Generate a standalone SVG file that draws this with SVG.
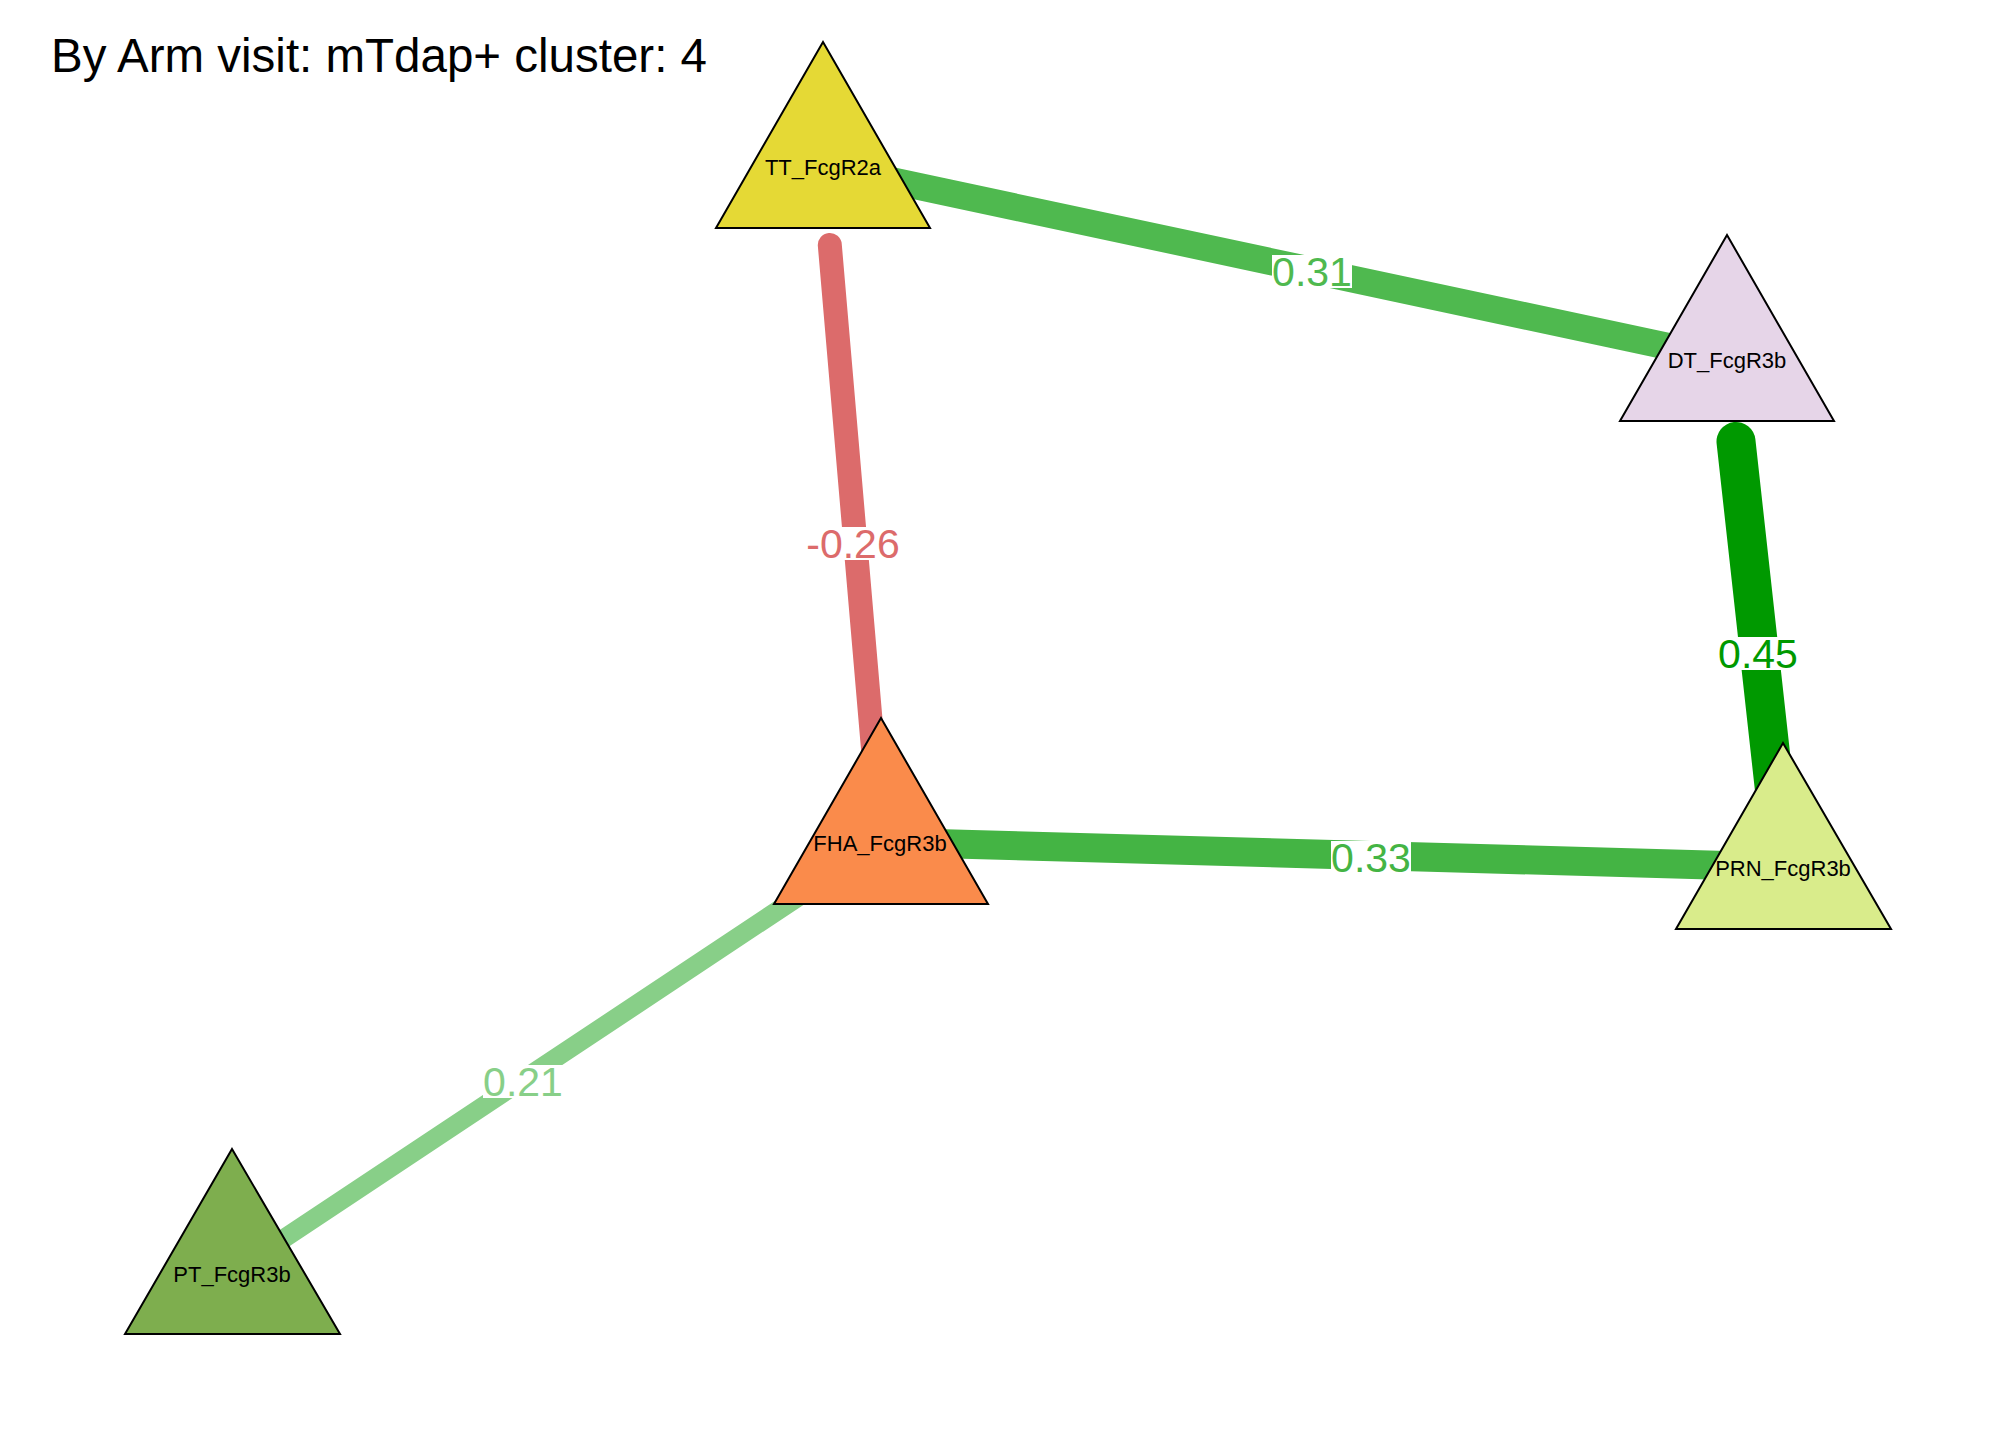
<svg xmlns="http://www.w3.org/2000/svg" width="2016" height="1440" viewBox="0 0 2016 1440">
<style>
.edge{fill:none;stroke-linecap:round}
.node polygon{stroke:#000;stroke-width:2;stroke-linejoin:miter}
.nlab{font-family:"Liberation Sans",Arial,sans-serif;font-size:22px;fill:#000;text-anchor:middle}
.elab{font-family:"Liberation Sans",Arial,sans-serif;font-size:41px;text-anchor:middle}
.lbg{fill:#fff}
.title{font-family:"Liberation Sans",Arial,sans-serif;font-size:47.5px;fill:#000}
</style>
<rect width="2016" height="1440" fill="#fff"/>
<text class="title" x="51" y="72">By Arm visit: mTdap+ cluster: 4</text>
<g id="connectors">
  <line class="edge" x1="823" y1="166" x2="1727" y2="359" stroke="#4FB94F" stroke-width="27"/>
  <line class="edge" x1="829.8" y1="245" x2="881" y2="842" stroke="#DC6B6B" stroke-width="24"/>
  <line class="edge" x1="1736" y1="441.5" x2="1783" y2="867" stroke="#009900" stroke-width="39"/>
  <line class="edge" x1="881" y1="842" x2="1783" y2="867" stroke="#44B444" stroke-width="29"/>
  <line class="edge" x1="881" y1="842" x2="232" y2="1273" stroke="#88CF88" stroke-width="19"/>
  <g id="edge-labels">
    <rect class="lbg" x="1272" y="255" width="80" height="33"/>
    <text class="elab" x="1312" y="286" fill="#4FB94F">0.31</text>
    <rect class="lbg" x="806" y="527" width="94" height="33"/>
    <text class="elab" x="853" y="558" fill="#DC6B6B">-0.26</text>
    <rect class="lbg" x="1718" y="637" width="80" height="33"/>
    <text class="elab" x="1758" y="668" fill="#009900">0.45</text>
    <rect class="lbg" x="1331" y="841" width="80" height="33"/>
    <text class="elab" x="1371" y="872" fill="#44B444">0.33</text>
    <rect class="lbg" x="483" y="1065" width="80" height="33"/>
    <text class="elab" x="523" y="1096" fill="#88CF88">0.21</text>
  </g>
</g>
<g id="node-TT_FcgR2a" class="node">
  <polygon points="823,42 930,228 716,228" fill="#E5D935"/>
  <text class="nlab" x="823" y="175">TT_FcgR2a</text>
</g>
<g id="node-DT_FcgR3b" class="node">
  <polygon points="1727,235 1834,421 1620,421" fill="#E6D5E8"/>
  <text class="nlab" x="1727" y="368">DT_FcgR3b</text>
</g>
<g id="node-FHA_FcgR3b" class="node">
  <polygon points="881,718 988,904 774,904" fill="#FA8B4B"/>
  <text class="nlab" x="880" y="851">FHA_FcgR3b</text>
</g>
<g id="node-PRN_FcgR3b" class="node">
  <polygon points="1783,743 1891,929 1676,929" fill="#D9EC8B"/>
  <text class="nlab" x="1783" y="876">PRN_FcgR3b</text>
</g>
<g id="node-PT_FcgR3b" class="node">
  <polygon points="232,1149 340,1334 125,1334" fill="#7EAE4E"/>
  <text class="nlab" x="232" y="1282">PT_FcgR3b</text>
</g>
</svg>
